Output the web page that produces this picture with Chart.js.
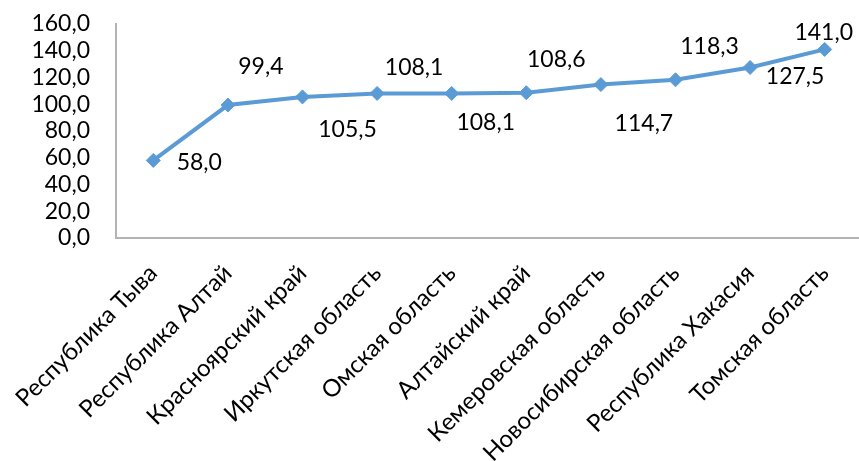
<!DOCTYPE html>
<html>
<head>
<meta charset="utf-8">
<script src="https://cdn.jsdelivr.net/npm/chart.js"></script>
<style>
  html, body { margin: 0; padding: 0; background: #fff; overflow: hidden; }
  #wrap { position: relative; width: 870px; height: 490px; }
</style>
</head>
<body>
<div id="wrap"><canvas id="regionChart"></canvas></div>
<script>
// Regions (categories) and values
const regions = [
    'Республика Тыва',
    'Республика Алтай',
    'Красноярский край',
    'Иркутская область',
    'Омская область',
    'Алтайский край',
    'Кемеровская область',
    'Новосибирская область',
    'Республика Хакасия',
    'Томская область'
];
const values = [58.0, 99.4, 105.5, 108.1, 108.1, 108.6, 114.7, 118.3, 127.5, 141.0];
const yTicks = [0, 20, 40, 60, 80, 100, 120, 140, 160];

const fmt = v => v.toFixed(1).replace('.', ',');
const FONT = 'Lato, "Noto Sans", sans-serif';

// data labels placed by hand like in the original spreadsheet chart
const labelPlugin = {
    id: 'pointLabels',
    afterDatasetsDraw(chart, args, opts) {
        const ctx = chart.ctx;
        const meta = chart.getDatasetMeta(0);
        ctx.save();
        ctx.font = opts.font;
        ctx.fillStyle = '#000';
        ctx.textAlign = 'center';
        ctx.textBaseline = 'middle';
        meta.data.forEach((pt, i) => {
            const off = opts.offsets[i] || [0, -20];
            ctx.fillText(fmt(values[i]), pt.x + off[0], pt.y + off[1]);
        });
        ctx.restore();
    }
};

const ctx = document.getElementById('regionChart').getContext('2d');

const chart = new Chart(ctx, {
    type: 'line',
    data: {
        labels: regions,
        datasets: [{
            data: values,
            borderColor: '#5b9bd5',
            backgroundColor: '#5b9bd5',
            borderWidth: 4,
            pointStyle: 'rectRot',
            pointRadius: 7,
            pointBackgroundColor: '#5b9bd5',
            pointBorderColor: '#5b9bd5',
            pointBorderWidth: 1,
            tension: 0,
            fill: false
        }]
    },
    plugins: [labelPlugin],
    options: {
        responsive: true,
        maintainAspectRatio: false,
        animation: false,
        layout: {
            padding: { top: 24, right: 4, left: 0, bottom: 0 }
        },
        plugins: {
            legend: { display: false },
            tooltip: { enabled: false },
            pointLabels: {
                font: '23px ' + FONT,
                offsets: [
                    [46, 2], [33, -38], [45, 33], [37, -26], [34, 29],
                    [30, -33], [43, 39], [34, -33], [45, 9], [-1, -17]
                ]
            }
        },
        scales: {
            x: {
                offset: true,
                grid: { display: false, drawTicks: false },
                border: { display: true, color: '#b3b3b3', width: 2 },
                ticks: {
                    color: '#000',
                    font: { family: FONT, size: 24 },
                    maxRotation: 45,
                    minRotation: 45,
                    autoSkip: false,
                    padding: 21
                },
                afterFit: s => {
                    s.height = 252;
                    s.paddingLeft = 0;
                    s.paddingRight = 0;
                }
            },
            y: {
                min: 0,
                max: 160,
                afterBuildTicks: s => { s.ticks = yTicks.map(v => ({ value: v })); },
                grid: { display: false, drawTicks: false },
                border: { display: true, color: '#b3b3b3', width: 2 },
                ticks: {
                    color: '#000',
                    font: { family: FONT, size: 23 },
                    padding: 26,
                    autoSkip: false,
                    callback: v => fmt(v)
                },
                afterFit: s => {
                    s.width = 116;
                    s.paddingTop = 0;
                    s.paddingBottom = 0;
                }
            }
        }
    }
});
</script>
</body>
</html>
